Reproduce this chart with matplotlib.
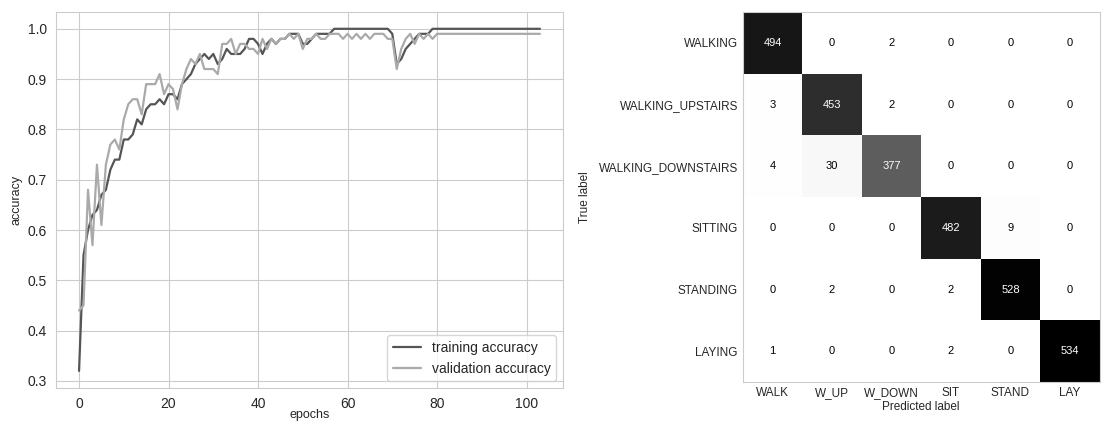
import numpy as np
import matplotlib
matplotlib.use('Agg')
import matplotlib.pyplot as plt
import seaborn as sns

sns.set_style('whitegrid')
plt.rcParams['font.family'] = ['Liberation Sans', 'DejaVu Sans']

# accuracy per epoch
train_acc = [0.32, 0.55, 0.60, 0.63, 0.64, 0.67, 0.68, 0.72, 0.74, 0.74,
             0.78, 0.78, 0.79, 0.82, 0.81, 0.84, 0.85, 0.85, 0.86, 0.85,
             0.87, 0.87, 0.86, 0.89, 0.90, 0.91, 0.93, 0.94, 0.95, 0.94,
             0.95, 0.93, 0.94, 0.96, 0.95, 0.95, 0.95, 0.96, 0.98, 0.98,
             0.97, 0.95, 0.97, 0.98, 0.97, 0.98, 0.98, 0.99, 0.99, 0.99,
             0.97, 0.97, 0.98, 0.99, 0.99, 0.99, 0.99, 1.0, 1.0, 1.0,
             1.0, 1.0, 1.0, 1.0, 1.0, 1.0, 1.0, 1.0, 1.0, 1.0,
             0.99, 0.93, 0.94, 0.96, 0.97, 0.98, 0.99, 0.99, 0.99, 1.0,
             1.0, 1.0, 1.0, 1.0, 1.0, 1.0, 1.0, 1.0, 1.0, 1.0,
             1.0, 1.0, 1.0, 1.0, 1.0, 1.0, 1.0, 1.0, 1.0, 1.0,
             1.0, 1.0, 1.0, 1.0]
val_acc = [0.44, 0.45, 0.68, 0.57, 0.73, 0.61, 0.73, 0.77, 0.78, 0.76,
           0.82, 0.85, 0.86, 0.86, 0.83, 0.89, 0.89, 0.89, 0.91, 0.87,
           0.89, 0.88, 0.84, 0.89, 0.92, 0.94, 0.93, 0.95, 0.92, 0.92,
           0.92, 0.91, 0.97, 0.97, 0.98, 0.95, 0.97, 0.97, 0.96, 0.96,
           0.95, 0.98, 0.96, 0.98, 0.97, 0.98, 0.98, 0.99, 0.98, 0.99,
           0.96, 0.98, 0.98, 0.99, 0.98, 0.98, 0.99, 0.99, 0.99, 0.98,
           0.99, 0.98, 0.99, 0.98, 0.99, 0.98, 0.99, 0.99, 0.99, 0.98,
           0.98, 0.92, 0.96, 0.98, 0.99, 0.97, 0.99, 0.98, 0.99, 0.98,
           0.99, 0.99, 0.99, 0.99, 0.99, 0.99, 0.99, 0.99, 0.99, 0.99,
           0.99, 0.99, 0.99, 0.99, 0.99, 0.99, 0.99, 0.99, 0.99, 0.99,
           0.99, 0.99, 0.99, 0.99]

# confusion matrix
row_labels = ['WALKING', 'WALKING_UPSTAIRS', 'WALKING_DOWNSTAIRS',
              'SITTING', 'STANDING', 'LAYING']
col_labels = ['WALK', 'W_UP', 'W_DOWN', 'SIT', 'STAND', 'LAY']
conf = [[494, 0, 2, 0, 0, 0],
        [3, 453, 2, 0, 0, 0],
        [4, 30, 377, 0, 0, 0],
        [0, 0, 0, 482, 9, 0],
        [0, 2, 0, 2, 528, 0],
        [1, 0, 0, 2, 0, 534]]

W, H = 1110, 423
fig = plt.figure(figsize=(W / 100, H / 100), dpi=100)

ax1 = fig.add_axes([56 / W, (H - 388) / H, (563 - 56) / W, (388 - 11.7) / H])
epochs = np.arange(len(train_acc))
ax1.plot(epochs, train_acc, color='#555555', lw=1.6, label='training accuracy')
ax1.plot(epochs, val_acc, color='#aaaaaa', lw=1.6, label='validation accuracy')
ax1.set_xlabel('epochs', fontsize=9, color='#262626')
ax1.xaxis.set_label_coords(0.5, -0.055)
ax1.set_ylabel('accuracy', fontsize=9, color='#262626')
ax1.tick_params(labelsize=10, colors='#262626', pad=3)
ax1.set_yticks(np.arange(0.3, 1.01, 0.1))
ax1.legend(loc='lower right', fontsize=10, frameon=True)
for s in ax1.spines.values():
    s.set_color('#cccccc')

# heatmap, right edge cut off like the reference
ax2 = fig.add_axes([742.7 / W, (H - 382) / H, 357 / W, 370 / H])
cm = np.array(conf)
ax2.imshow(cm, cmap='Greys', aspect='auto', vmin=0, vmax=cm.max())
for i in range(cm.shape[0]):
    for j in range(cm.shape[1]):
        c = 'white' if cm[i, j] > cm.max() / 2 else 'black'
        ax2.text(j, i, str(cm[i, j]), ha='center', va='center', fontsize=8, color=c)
ax2.grid(False)
ax2.set_xticks(range(len(col_labels)))
ax2.set_xticklabels(col_labels)
ax2.set_yticks(range(len(row_labels)))
ax2.set_yticklabels(row_labels)
ax2.tick_params(labelsize=8.5, colors='#262626', length=0)
ax2.set_xlabel('Predicted label', fontsize=8.5, color='#262626', labelpad=1.5)
ax2.set_ylabel('True label', fontsize=8.5, color='#262626')
ax2.yaxis.set_label_coords(-0.425, 0.5)
for s in ax2.spines.values():
    s.set_color('#cccccc')

fig.savefig('out.png', dpi=100)
